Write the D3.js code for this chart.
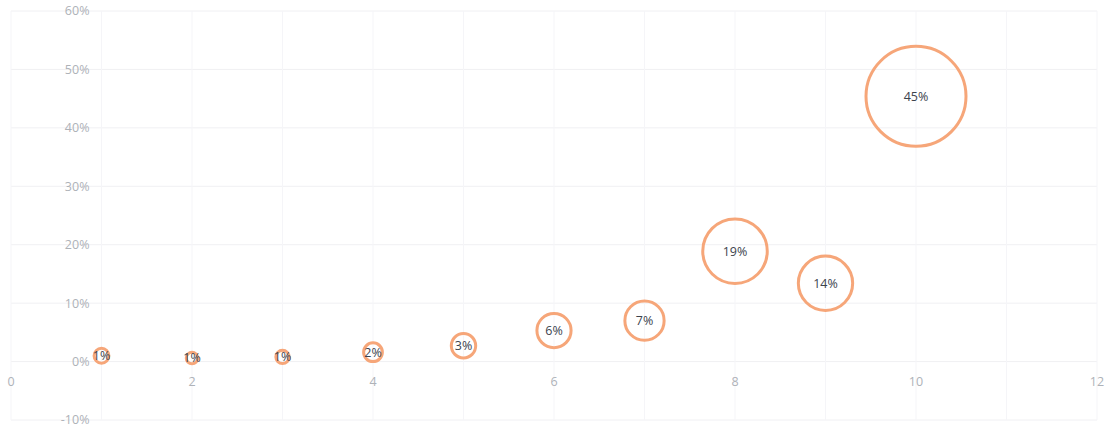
<!DOCTYPE html>
<html>
<head>
<meta charset="utf-8">
<script src="https://cdn.jsdelivr.net/npm/d3@7"></script>
<style>
  body { margin: 0; background: #fff; }
  text { font-family: "Open Sans", "Liberation Sans", sans-serif; }
  .tick-label { fill: #aeb2b8; font-size: 12.5px; }
  .bubble-label { fill: #3c434d; font-size: 12.5px; }
</style>
</head>
<body>
<div id="chart"></div>
<script>
var svgWidth = 1106;
var svgHeight = 431;

// data
var xValues = [1, 2, 3, 4, 5, 6, 7, 8, 9, 10];
var yValues = [1.0, 0.6, 0.8, 1.6, 2.7, 5.3, 7.0, 18.9, 13.4, 45.4];
var labels = ["1%", "1%", "1%", "2%", "3%", "6%", "7%", "19%", "14%", "45%"];
var xTicks = [0, 2, 4, 6, 8, 10, 12];
var yTicks = [-10, 0, 10, 20, 30, 40, 50, 60];

var data = xValues.map(function(x, i) {
  return { x: x, y: yValues[i], label: labels[i] };
});

var svg = d3.select("#chart")
  .append("svg")
  .attr("width", svgWidth)
  .attr("height", svgHeight);

var xScale = d3.scaleLinear()
  .domain([0, 12])
  .range([11, 1097]);

var yScale = d3.scaleLinear()
  .domain([-10, 60])
  .range([420, 11]);

var rScale = d3.scaleSqrt()
  .domain([0, 45.4])
  .range([0, 50]);

// gridlines
svg.append("g")
  .selectAll("line")
  .data(yTicks)
  .enter()
  .append("line")
  .attr("x1", xScale(0))
  .attr("x2", xScale(12))
  .attr("y1", d => yScale(d))
  .attr("y2", d => yScale(d))
  .attr("stroke", "#f0f0f3")
  .attr("stroke-width", 1);

svg.append("g")
  .selectAll("line")
  .data(d3.range(0, 13))
  .enter()
  .append("line")
  .attr("x1", d => xScale(d))
  .attr("x2", d => xScale(d))
  .attr("y1", yScale(60))
  .attr("y2", yScale(-10))
  .attr("stroke", "#f5f5f8")
  .attr("stroke-width", 1);

// y tick labels (sit left of x = 1)
svg.append("g")
  .selectAll("text")
  .data(yTicks)
  .enter()
  .append("text")
  .attr("class", "tick-label")
  .attr("x", xScale(1) - 12)
  .attr("y", d => yScale(d))
  .attr("dy", "0.35em")
  .attr("text-anchor", "end")
  .text(d => d + "%");

// x tick labels
svg.append("g")
  .selectAll("text")
  .data(xTicks)
  .enter()
  .append("text")
  .attr("class", "tick-label")
  .attr("x", d => xScale(d))
  .attr("y", yScale(0) + 20)
  .attr("dy", "0.35em")
  .attr("text-anchor", "middle")
  .text(d => d);

// bubbles
svg.append("g")
  .selectAll("circle")
  .data(data)
  .enter()
  .append("circle")
  .attr("cx", d => xScale(d.x))
  .attr("cy", d => yScale(d.y))
  .attr("r", d => rScale(d.y))
  .attr("fill", "none")
  .attr("stroke", "#f6a679")
  .attr("stroke-width", 3);

svg.append("g")
  .selectAll("text")
  .data(data)
  .enter()
  .append("text")
  .attr("class", "bubble-label")
  .attr("x", d => xScale(d.x))
  .attr("y", d => yScale(d.y))
  .attr("dy", "0.35em")
  .attr("text-anchor", "middle")
  .text(d => d.label);
</script>
</body>
</html>
